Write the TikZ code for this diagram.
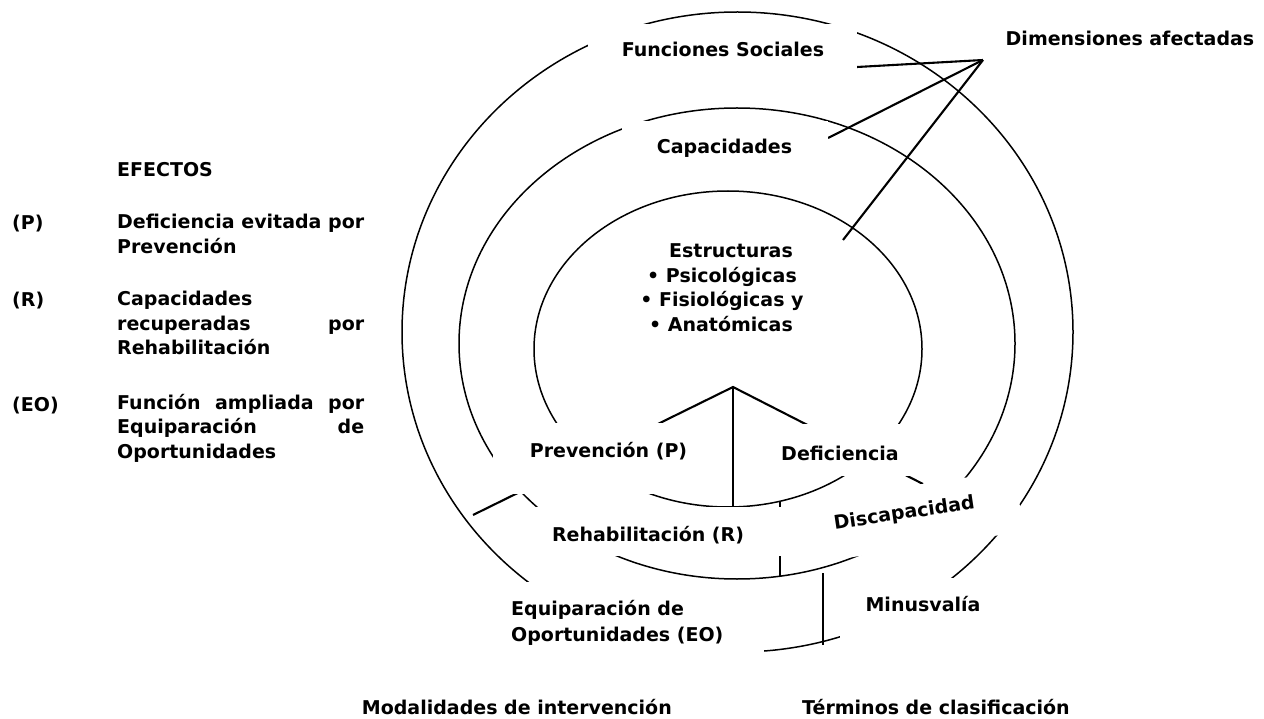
\documentclass[tikz,border=0pt]{standalone}
\usepackage{fontspec}
\setmainfont{DejaVu Sans}

\begin{document}
\begin{tikzpicture}[x=1pt,y=-1pt,
        ring/.style={line width=1.5pt},
        tie/.style={line width=2.1pt},
        mask/.style={fill=white},
        txt/.style={inner sep=0pt,anchor=base,font=\bfseries\fontsize{19}{24.5}\selectfont},
        keytxt/.style={txt,anchor=base west},
        legtxt/.style={txt,anchor=base west,text width=247pt,align=left}]
        \useasboundingbox (0,0) rectangle (1264,719);

        % anillos
        \draw[ring] (737.5,332) ellipse [x radius=335.5, y radius=320];
        \draw[ring] (737,343.5) ellipse [x radius=278, y radius=235.5];
        \draw[ring] (728,349) ellipse [x radius=194, y radius=158];

        % dimensiones afectadas
        \coordinate (dimtip) at (983,60);
        \coordinate (fsend) at (857,67);
        \coordinate (caend) at (828,138);
        \coordinate (esend) at (843,240);
        \draw[tie] (dimtip) -- (fsend);
        \draw[tie] (dimtip) -- (caend);
        \draw[tie] (dimtip) -- (esend);

        % arbol de intervencion
        \coordinate (apex) at (733,387);
        \draw[tie] (473,515) -- (apex) -- (923,484);
        \draw[tie] (apex) -- (733,507);
        \draw[tie] (780,501) -- (780,576);
        \draw[tie] (823,573) -- (823,645);

        % cajas blancas
        \fill[mask] (588,24) rectangle (857,80);
        \fill[mask] (622,121) rectangle (828,170);
        \fill[mask] (493,423) rectangle (710,494);
        \fill[mask] (760,424) rectangle (910,476);
        \fill[mask] (520,507) rectangle (800,556);
        \fill[mask] (835,497) -- (1014.5,470.4) -- (1023.7,531.5) -- (844.2,558.3) -- cycle;
        \fill[mask] (840,578) rectangle (990,650);
        \fill[mask] (505,582) rectangle (764,665);

        % textos del circulo
        \node[txt] (fsoc) at (723,57) {Funciones Sociales};
        \node[txt] (capac) at (724.5,154) {Capacidades};
        \node[txt] (dimaf) at (1130,46) {Dimensiones afectadas};
        \node[txt] (estr) at (731,258) {Estructuras};
        \node[txt] (psico) at (722,283) {\textbullet\ Psicológicas};
        \node[txt] (fisio) at (722,307) {\textbullet\ Fisiológicas y};
        \node[txt] (anat) at (721,331) {\textbullet\ Anatómicas};
        \node[txt] (prev) at (608.5,457) {Prevención (P)};
        \node[txt] (defic) at (840,460) {Deficiencia};
        \node[txt] (rehab) at (648,541) {Rehabilitación (R)};
        \node[txt,rotate=8.5] (discap) at (905,519) {Discapacidad};
        \node[txt] (minus) at (923,611) {Minusvalía};
        \node[keytxt] (equip) at (511,615) {Equiparación de};
        \node[keytxt] (oport) at (511,641) {Oportunidades (EO)};

        % pies
        \node[txt,anchor=base east] (modal) at (672,714) {Modalidades de intervención};
        \node[keytxt] (termin) at (802,714) {Términos de clasificación};

        % efectos
        \node[keytxt] (efectos) at (117,177) {EFECTOS};
        \node[keytxt] (pkey) at (12,230) {(P)};
        \node[legtxt] (ptext) at (117,229) {Deficiencia\hfill evitada\hfill por\\Prevención};
        \node[keytxt] (rkey) at (12,307) {(R)};
        \node[legtxt] (rtext) at (117,306) {Capacidades\\recuperadas\hfill por\\Rehabilitación};
        \node[keytxt] (eokey) at (12,411) {(EO)};
        \node[legtxt] (eotext) at (117,409) {Función\hfill ampliada\hfill por\\Equiparación\hfill de\\Oportunidades};
\end{tikzpicture}
\end{document}
